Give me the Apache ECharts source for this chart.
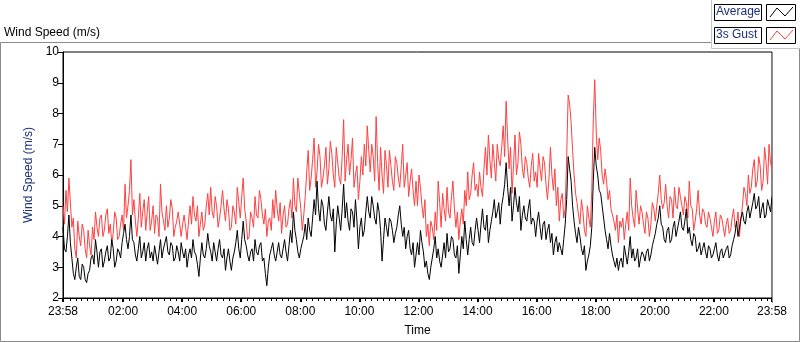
<!DOCTYPE html>
<html>
<head>
<meta charset="utf-8">
<script src="https://cdn.jsdelivr.net/npm/echarts@6/dist/echarts.min.js"></script>
<style>
html, body { margin: 0; padding: 0; background: #fff; }
#chart { width: 800px; height: 342px; }
</style>
</head>
<body>
<div id="chart"></div>
<script>
// Start of the record (23:58) in minutes after midnight, samples every 3 minutes
const START_CLOCK = 23 * 60 + 58;
const STEP_MIN = 6;   // spacing of the main readings; the "Mid" arrays sit halfway between

// 3s gust (m/s) at 23:58 + 6*i minutes
const gustSpeed = [
    // 23:58 - 06:00
    5.0, 5.5, 5.9, 4.3, 3.6, 4.5, 3.7, 4.2, 3.3, 3.7,
    4.3, 4.8, 4.0, 4.7, 4.2, 4.9, 4.4, 4.1, 4.6, 4.0,
    4.7, 5.7, 5.0, 6.5, 5.2, 4.0, 5.4, 4.8, 4.2, 5.3,
    4.5, 4.1, 4.6, 5.7, 4.5, 5.0, 4.6, 4.9, 4.3, 4.8,
    4.0, 4.7, 3.9, 5.0, 5.3, 4.5, 4.0, 4.8, 4.4, 5.4,
    5.6, 4.6, 5.0, 4.6, 5.5, 4.5, 4.9, 4.3, 4.8, 5.6,
    // 06:00 - 12:00
    4.6, 5.9, 4.5, 4.0, 4.6, 5.3, 4.6, 5.2, 4.4, 4.0,
    4.6, 5.2, 5.5, 4.5, 4.1, 5.0, 4.4, 5.2, 5.9, 4.8,
    5.4, 4.2, 5.3, 6.8, 5.9, 7.2, 6.1, 6.6, 5.9, 6.9,
    6.2, 6.7, 5.6, 6.4, 5.7, 7.8, 6.5, 6.0, 7.2, 6.0,
    5.2, 6.6, 7.0, 7.6, 6.1, 6.6, 7.9, 5.5, 6.0, 6.8,
    5.6, 6.3, 5.5, 6.4, 5.6, 7.0, 6.0, 5.3, 6.2, 5.0,
    // 12:00 - 18:00
    5.0, 5.6, 4.6, 4.0, 3.7, 4.3, 4.8, 5.8, 4.3, 4.9,
    5.6, 4.6, 5.8, 4.3, 3.9, 4.9, 5.5, 6.1, 5.4, 6.4,
    5.7, 6.1, 5.3, 6.9, 7.3, 5.9, 6.4, 7.0, 6.3, 7.6,
    8.4, 6.2, 5.4, 7.3, 6.4, 7.0, 5.9, 6.4, 5.6, 6.7,
    6.1, 6.7, 5.8, 6.4, 5.2, 6.9, 5.5, 5.0, 4.5, 5.4,
    4.9, 8.6, 7.7, 6.0, 5.1, 4.4, 4.8, 4.0, 4.6, 5.5,
    // 18:00 - 23:58
    9.1, 6.5, 6.8, 5.7, 5.8, 5.5, 4.7, 4.2, 3.8, 4.3,
    3.9, 4.8, 5.9, 4.6, 5.5, 4.4, 4.8, 4.1, 4.6, 4.4,
    4.9, 5.0, 6.0, 4.9, 5.7, 4.6, 5.2, 5.6, 4.9, 5.3,
    4.7, 5.1, 5.8, 4.9, 4.5, 5.5, 4.4, 4.8, 4.3, 4.6,
    4.0, 4.8, 4.2, 4.6, 4.0, 4.6, 4.2, 4.9, 4.4, 4.0,
    5.0, 5.4, 6.0, 5.6, 6.5, 5.8, 6.3, 5.8, 6.4, 7.0,
    6.2
];

// 3s gust readings halfway between the ones above (23:58 + 6*i + 3 minutes)
const gustSpeedMid = [
    4.4, 4.8, 5.1, 4.6, 3.3, 4.0, 4.4, 3.6, 4.2, 3.4,
    3.9, 4.3, 4.6, 4.0, 4.7, 4.1, 3.8, 4.8, 3.9, 4.4,
    4.2, 4.6, 5.5, 4.7, 4.5, 4.6, 4.3, 5.2, 4.8, 4.2,
    5.0, 4.7, 4.0, 4.8, 4.2, 4.3, 5.2, 4.0, 4.5, 4.4,
    4.4, 4.3, 4.5, 4.4, 4.7, 5.0, 4.4, 4.2, 5.0, 4.7,
    4.8, 5.3, 4.3, 5.0, 4.9, 5.2, 4.2, 5.0, 4.4, 5.1,
    5.3, 4.9, 3.9, 4.8, 4.3, 4.7, 5.5, 4.7, 4.9, 4.5,
    4.2, 4.6, 4.9, 5.1, 4.7, 4.3, 4.9, 4.6, 5.0, 5.9,
    4.9, 4.7, 6.1, 5.5, 6.5, 5.6, 7.0, 5.6, 6.3, 5.7,
    7.1, 6.0, 6.9, 5.9, 6.6, 5.8, 7.0, 6.5, 5.6, 6.3,
    5.8, 6.0, 6.3, 6.8, 7.0, 5.8, 6.4, 6.9, 5.4, 6.3,
    6.8, 5.8, 6.6, 5.9, 6.3, 5.6, 6.4, 5.8, 5.5, 5.8,
    6.0, 5.0, 5.2, 4.4, 4.5, 3.9, 4.2, 5.1, 5.4, 4.5,
    4.8, 5.3, 4.9, 4.8, 4.5, 4.4, 5.0, 5.2, 6.0, 5.5,
    5.3, 5.6, 6.2, 6.0, 6.5, 7.0, 5.8, 6.5, 6.9, 6.6,
    7.2, 6.9, 6.3, 6.0, 7.4, 6.2, 6.6, 5.9, 6.3, 5.8,
    5.6, 6.2, 6.6, 5.7, 5.9, 6.0, 6.2, 5.6, 5.2, 4.6,
    6.6, 8.3, 6.8, 5.4, 4.7, 5.2, 4.2, 5.0, 4.3, 7.8,
    7.4, 7.2, 6.0, 6.2, 5.2, 4.9, 4.5, 4.7, 4.5, 4.6,
    4.4, 4.2, 5.0, 4.3, 4.9, 5.0, 4.4, 4.8, 4.0, 5.1,
    4.5, 5.4, 5.2, 5.1, 5.0, 5.3, 4.6, 5.0, 5.6, 5.0,
    5.3, 4.6, 5.0, 4.2, 4.9, 4.7, 4.9, 4.4, 4.8, 4.3,
    4.5, 4.1, 4.7, 4.3, 4.4, 4.1, 4.6, 4.3, 4.8, 4.6,
    5.6, 5.0, 5.4, 6.2, 5.6, 6.6, 5.5, 6.9, 5.7, 6.4
];

// Average speed (m/s) at 23:58 + 6*i minutes
const avgSpeed = [
    // 23:58 - 06:00
    4.3, 3.5, 4.7, 3.3, 2.6, 3.3, 2.6, 3.0, 2.5, 2.9,
    3.4, 3.9, 3.0, 3.6, 3.2, 3.7, 3.3, 3.6, 3.2, 3.5,
    3.8, 4.4, 3.6, 4.7, 3.8, 3.2, 4.0, 3.5, 3.2, 3.8,
    3.5, 3.7, 3.1, 3.9, 3.6, 4.0, 3.4, 3.7, 3.3, 3.5,
    3.8, 3.3, 3.0, 3.6, 3.9, 3.4, 2.7, 3.8, 3.3, 4.1,
    3.5, 3.8, 3.2, 3.9, 3.3, 2.9, 3.6, 2.9, 3.5, 4.2,
    // 06:00 - 12:00
    3.3, 4.5, 3.7, 3.2, 3.6, 3.9, 3.4, 3.8, 3.3, 2.4,
    3.4, 3.8, 3.2, 3.8, 3.3, 3.9, 3.2, 4.2, 4.8, 3.9,
    3.3, 3.8, 4.4, 4.6, 4.0, 5.2, 5.8, 4.5, 5.0, 4.2,
    5.3, 4.5, 3.5, 5.0, 4.2, 5.7, 5.1, 4.2, 4.8, 5.2,
    3.6, 4.6, 4.2, 5.3, 4.6, 5.0, 4.4, 4.8, 3.2, 4.6,
    4.0, 4.5, 3.8, 4.3, 5.0, 4.0, 3.6, 4.2, 3.4, 3.0,
    // 12:00 - 18:00
    3.8, 4.2, 3.5, 3.2, 2.6, 3.3, 4.0, 3.6, 3.0, 3.8,
    4.1, 3.6, 3.9, 3.3, 2.8, 4.0, 4.5, 3.4, 4.3, 3.7,
    4.6, 3.8, 4.9, 4.2, 3.8, 4.5, 5.2, 4.8, 4.4, 5.3,
    6.4, 5.0, 4.5, 5.6, 4.8, 4.2, 5.0, 4.5, 5.2, 4.6,
    4.0, 4.8, 3.9, 4.5, 4.2, 3.8, 3.4, 4.0, 3.8, 3.4,
    4.4, 6.6, 5.8, 4.5, 3.8, 4.0, 3.4, 2.9, 3.4, 4.3,
    // 18:00 - 23:58
    6.9, 6.0, 5.4, 4.6, 3.9, 4.1, 3.4, 3.0, 2.9, 3.3,
    3.7, 3.1, 4.0, 3.6, 3.3, 3.0, 3.5, 3.2, 3.6, 3.4,
    3.9, 4.4, 5.0, 4.3, 3.8, 4.3, 3.9, 4.5, 4.0, 4.8,
    4.2, 4.9, 4.3, 3.7, 4.0, 3.6, 3.4, 3.8, 3.3, 3.6,
    3.4, 3.8, 3.2, 3.6, 3.3, 3.7, 3.4, 3.9, 4.5, 4.3,
    4.8, 4.4, 5.0, 4.6, 5.4, 5.0, 4.6, 5.1, 4.7, 5.0,
    5.3
];

// Average readings halfway between the ones above
const avgSpeedMid = [
    3.6, 4.0, 3.8, 2.8, 3.0, 2.7, 3.1, 2.6, 2.8, 3.3,
    3.1, 3.5, 3.5, 3.0, 3.5, 3.2, 3.9, 3.0, 3.6, 3.3,
    4.1, 3.9, 4.0, 3.9, 3.4, 3.6, 3.3, 3.8, 3.6, 3.3,
    3.2, 3.4, 3.5, 3.3, 3.8, 3.5, 3.8, 3.2, 3.7, 3.2,
    3.5, 3.6, 3.4, 3.3, 3.5, 3.1, 3.3, 3.4, 3.6, 3.7,
    3.2, 3.5, 3.6, 3.4, 3.6, 3.3, 3.2, 3.3, 3.8, 3.6,
    3.9, 3.9, 3.4, 3.5, 3.2, 3.5, 3.7, 3.2, 2.8, 3.0,
    3.6, 3.4, 3.5, 3.4, 3.6, 3.5, 3.7, 3.8, 4.2, 3.5,
    3.6, 4.0, 3.9, 4.2, 4.6, 4.7, 4.9, 5.2, 4.4, 4.8,
    4.7, 4.9, 4.4, 4.6, 4.9, 4.6, 4.5, 4.9, 4.3, 4.5,
    4.3, 4.0, 4.8, 4.8, 5.3, 4.6, 5.1, 4.2, 3.9, 4.3,
    4.6, 4.2, 4.1, 4.7, 4.4, 4.3, 4.0, 3.6, 3.8, 3.4,
    3.4, 3.8, 3.0, 2.8, 3.0, 3.6, 3.3, 3.2, 3.4, 3.3,
    3.5, 4.0, 3.4, 3.7, 3.4, 3.6, 3.9, 3.9, 3.8, 4.2,
    4.2, 4.4, 4.3, 4.7, 4.2, 4.8, 4.6, 5.1, 5.0, 5.7,
    5.6, 5.6, 5.0, 5.1, 5.3, 4.7, 4.6, 4.9, 4.4, 4.5,
    4.5, 4.3, 4.4, 3.9, 4.4, 4.1, 3.8, 3.5, 3.6, 3.9,
    5.2, 6.2, 5.0, 4.1, 4.3, 3.6, 3.7, 3.2, 3.7, 5.8,
    6.3, 5.5, 5.0, 4.2, 3.6, 3.7, 3.2, 3.3, 3.2, 3.0,
    3.4, 3.5, 3.3, 3.2, 3.6, 3.3, 3.4, 3.5, 3.2, 3.7,
    4.1, 4.6, 4.4, 3.9, 4.2, 3.8, 4.3, 4.0, 4.5, 4.3,
    4.5, 4.1, 3.9, 4.1, 3.5, 3.8, 3.6, 3.5, 3.7, 3.3,
    3.6, 3.4, 3.5, 3.3, 3.6, 3.3, 3.7, 4.1, 4.0, 4.6,
    4.5, 4.8, 4.6, 5.1, 4.9, 5.3, 4.9, 4.6, 5.2, 4.8
];

// Time axis labels (minutes after the 23:58 start)
const xLabelMinutes = [0, 122, 242, 362, 482, 602, 722, 842, 962, 1082, 1202, 1322, 1440];
const yMin = 2;
const yMax = 10;

// Minor ticks every 12 minutes of clock time, skipping the labelled hours
const xMinorMinutes = [];
for (let clock = 12; clock < 1440; clock += 12) {
    if (clock % 120 !== 0) xMinorMinutes.push(clock + 2);
}

function clockLabel(m) {
    const t = (START_CLOCK + Math.round(m)) % 1440;
    const hh = String(Math.floor(t / 60)).padStart(2, '0');
    const mm = String(t % 60).padStart(2, '0');
    return hh + ':' + mm;
}

// merge main and halfway readings into [minute, value] pairs
function toPairs(main, mid) {
    const out = [];
    main.forEach((v, i) => {
        out.push([i * STEP_MIN, v]);
        if (i < mid.length) out.push([i * STEP_MIN + STEP_MIN / 2, mid[i]]);
    });
    return out;
}

const FONT = 'Liberation Sans';
const NAVY = '#1c2f78';
const GUST_RED = '#ff4040';

const chart = echarts.init(document.getElementById('chart'));

const option = {
    animation: false,
    backgroundColor: '#fff',
    textStyle: { fontFamily: FONT },
    grid: {
        left: 63, right: 28, top: 52, bottom: 39,
        show: true,
        borderColor: '#000',
        borderWidth: 1
    },
    xAxis: [{
        type: 'value',
        min: 0,
        max: 1440,
        name: 'Time',
        nameLocation: 'middle',
        nameGap: 27,
        nameTextStyle: { color: '#000', fontSize: 12, fontFamily: FONT },
        axisLine: { lineStyle: { color: '#000', width: 1 } },
        axisTick: { show: true, length: 4, customValues: xLabelMinutes, lineStyle: { color: '#000', width: 2 } },
        axisLabel: {
            customValues: xLabelMinutes,
            formatter: v => clockLabel(v),
            color: '#000',
            fontSize: 12,
            fontFamily: FONT,
            margin: 8
        },
        splitLine: { show: false }
    }, {
        type: 'value',
        min: 0,
        max: 1440,
        position: 'bottom',
        axisLine: { show: false },
        axisTick: { show: true, length: 3, customValues: xMinorMinutes, lineStyle: { color: '#000', width: 1 } },
        axisLabel: { show: false },
        splitLine: { show: false }
    }],
    yAxis: {
        type: 'value',
        min: yMin,
        max: yMax,
        interval: 1,
        name: 'Wind Speed (m/s)',
        nameLocation: 'middle',
        nameGap: 23,
        nameTextStyle: { color: NAVY, fontSize: 12, fontFamily: FONT },
        axisLine: { show: true, lineStyle: { color: '#000', width: 1 } },
        axisTick: { show: true, length: 5, lineStyle: { color: '#000' } },
        axisLabel: { color: '#000', fontSize: 12, fontFamily: FONT, margin: 4 },
        splitLine: { show: false }
    },
    series: [{
        name: '3s Gust',
        type: 'line',
        data: toPairs(gustSpeed, gustSpeedMid),
        showSymbol: false,
        lineStyle: { color: GUST_RED, width: 1 },
        itemStyle: { color: GUST_RED }
    }, {
        name: 'Average',
        type: 'line',
        data: toPairs(avgSpeed, avgSpeedMid),
        showSymbol: false,
        lineStyle: { color: '#000', width: 1 },
        itemStyle: { color: '#000' }
    }],
    graphic: [
        // outer frame
        { type: 'rect', silent: true, shape: { x: 0.5, y: 42.5, width: 799, height: 299 },
          style: { fill: 'none', stroke: '#8a8a8a', lineWidth: 1 } },
        // right edge of plot in grey
        { type: 'line', silent: true, shape: { x1: 772.5, y1: 52, x2: 772.5, y2: 303 },
          style: { stroke: '#8a8a8a', lineWidth: 1 }, z: 100 },
        // chart title
        { type: 'text', left: 4, top: 27,
          style: { text: 'Wind Speed (m/s)', fill: '#000', font: '12px "Liberation Sans"' } },
        // legend panel
        { type: 'rect', silent: true, shape: { x: 711.5, y: -1, width: 90, height: 49.5 },
          style: { fill: '#fff', stroke: '#c4c4c4', lineWidth: 1 } },
        { type: 'rect', silent: true, shape: { x: 714.5, y: 4.5, width: 47, height: 16 },
          style: { fill: '#fff', stroke: '#000', lineWidth: 1 } },
        { type: 'text', left: 716, top: 6,
          style: { text: 'Average', fill: NAVY, font: '12px "Liberation Sans"' } },
        { type: 'rect', silent: true, shape: { x: 766.5, y: 4.5, width: 29, height: 16 },
          style: { fill: '#fff', stroke: '#000', lineWidth: 1 } },
        { type: 'polyline', silent: true, shape: { points: [[770, 17], [777, 8], [785, 16], [793, 7]] },
          style: { stroke: '#000', lineWidth: 1, fill: 'none' } },
        { type: 'rect', silent: true, shape: { x: 714.5, y: 27.5, width: 47, height: 16 },
          style: { fill: '#fff', stroke: '#000', lineWidth: 1 } },
        { type: 'text', left: 716, top: 29,
          style: { text: '3s Gust', fill: NAVY, font: '12px "Liberation Sans"' } },
        { type: 'rect', silent: true, shape: { x: 766.5, y: 27.5, width: 29, height: 16 },
          style: { fill: '#fff', stroke: '#000', lineWidth: 1 } },
        { type: 'polyline', silent: true, shape: { points: [[770, 40], [777, 31], [785, 39], [793, 30]] },
          style: { stroke: GUST_RED, lineWidth: 1, fill: 'none' } }
    ]
};

chart.setOption(option);
window.addEventListener('resize', () => chart.resize());
</script>
</body>
</html>
